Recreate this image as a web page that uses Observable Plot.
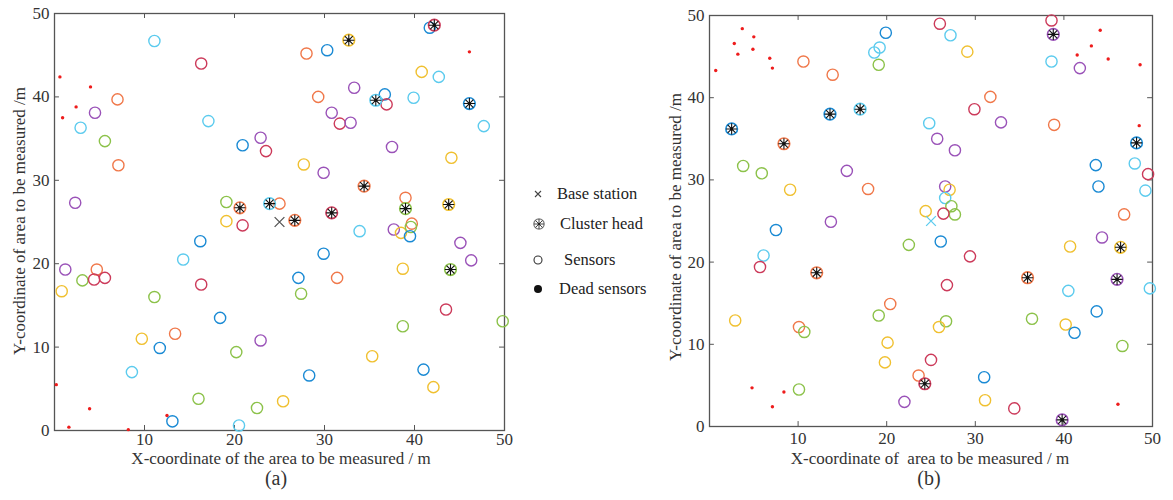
<!DOCTYPE html>
<html>
<head>
<meta charset="utf-8">
<script src="https://cdn.jsdelivr.net/npm/d3@7"></script>
<script src="https://cdn.jsdelivr.net/npm/@observablehq/plot@0.6"></script>
<style>
  html, body { margin: 0; padding: 0; background: #fff; }
  #wrap { position: relative; width: 1173px; height: 500px; background: #fff; font-family: "Liberation Serif", "DejaVu Serif", serif; color: #333; }
  .abs { position: absolute; white-space: pre; line-height: 1; }
  .c { transform: translate(-50%, -50%); }
  .rot { transform: translate(-50%, -50%) rotate(-90deg); }
  .leg { position: absolute; left: 532px; font-size: 16.5px; color: #222; }
  .leg div { position: absolute; left: 0; white-space: nowrap; display: flex; align-items: center; }
  .leg svg { display: block; }
</style>
</head>
<body>
<div id="wrap">
  <div id="pa" class="abs" style="left:0;top:0"></div>
  <div id="pb" class="abs" style="left:640px;top:0"></div>
  <div class="abs rot" style="left:19px;top:221px;font-size:17px">Y-coordinate of area to be measured /m</div>
  <div class="abs c" style="left:281px;top:458px;font-size:17px">X-coordinate of the area to be measured / m</div>
  <div class="abs c" style="left:276px;top:478px;font-size:20px">(a)</div>
  <div class="abs rot" style="left:675px;top:227px;font-size:17px">Y-coordinate of area to be measured /m</div>
  <div class="abs c" style="left:930px;top:458px;font-size:17px">X-coordinate of  area to be measured / m</div>
  <div class="abs c" style="left:929px;top:478px;font-size:20px">(b)</div>
  <div class="leg" id="legend"></div>
</div>
<script>
// ---- categories (cluster groups) ----
const groups = ["G1", "G2", "G3", "G4", "G5", "G6", "G7"];
const groupColors = ["#1a8ad4", "#f0784a", "#f0c030", "#9a52b8", "#8cc24a", "#5ccbee", "#cc3a5a"];
// shorthand: B=G1 blue, O=G2 orange, Y=G3 yellow, P=G4 purple, G=G5 green, C=G6 cyan, R=G7 crimson
const code = {B: "G1", O: "G2", Y: "G3", P: "G4", G: "G5", C: "G6", R: "G7"};

const legendLabels = ["Base station", "Cluster head", "Sensors", "Dead sensors"];
const xTicks = [10, 20, 30, 40, 50];
const yTicks = [0, 10, 20, 30, 40, 50];
const innerTicks = [10, 20, 30, 40];

// ---- panel (a) ----
const sensorsA = [
  ["C",11.1,46.7],["R",16.3,44.0],["O",7.0,39.7],["P",4.5,38.1],["C",2.9,36.3],["C",17.1,37.1],
  ["G",5.6,34.7],["B",20.9,34.2],["P",22.9,35.1],["R",23.5,33.5],["O",7.1,31.8],["P",2.3,27.3],
  ["G",19.1,27.4],["O",25.0,27.2],["Y",19.1,25.1],["R",20.9,24.6],["B",41.7,48.3],["O",28.0,45.2],
  ["B",30.3,45.6],["Y",40.8,43.0],["C",42.7,42.4],["P",33.3,41.1],["O",29.3,40.0],["B",36.7,40.3],
  ["R",36.9,39.1],["C",39.9,39.9],["C",47.7,36.5],["P",30.8,38.1],["R",31.7,36.8],["P",32.9,36.9],
  ["P",37.5,34.0],["Y",44.1,32.7],["Y",27.7,31.9],["P",29.9,30.9],["O",39.0,27.9],["C",33.9,23.9],
  ["P",37.7,24.1],["Y",38.5,23.7],["O",39.7,24.8],["G",39.6,24.4],["B",39.5,23.3],["P",45.1,22.5],
  ["P",46.3,20.4],["B",29.9,21.2],["B",27.1,18.3],["O",31.4,18.3],["G",27.4,16.4],["Y",38.7,19.4],
  ["R",43.5,14.5],["G",49.8,13.1],["G",38.7,12.5],["P",22.9,10.8],["Y",35.3,8.9],["B",41.0,7.3],
  ["Y",42.1,5.2],["B",28.3,6.6],["Y",25.4,3.5],["G",22.5,2.7],["P",1.2,19.3],["Y",0.8,16.7],
  ["O",4.7,19.3],["G",3.1,18.0],["R",4.4,18.1],["R",5.6,18.3],["B",16.2,22.7],["C",14.3,20.5],
  ["R",16.3,17.5],["G",11.1,16.0],["B",18.4,13.5],["O",13.4,11.6],["Y",9.7,11.0],["B",11.7,9.9],
  ["G",20.2,9.4],["C",8.6,7.0],["G",16.0,3.8],["B",13.1,1.1],["C",20.5,0.6]
];
const headsA = [
  ["R",42.2,48.6],["Y",32.7,46.8],["C",35.7,39.6],["B",46.1,39.2],["O",34.4,29.3],["O",20.6,26.7],
  ["C",23.9,27.2],["O",26.7,25.2],["R",30.8,26.1],["G",39.0,26.6],["Y",43.8,27.1],["G",44.0,19.3]
];
const deadA = [
  [0.6,42.4],[0.9,37.5],[2.4,38.8],[4.0,41.2],[46.1,45.4],[0.2,5.5],[1.6,0.4],[3.9,2.6],[8.2,0.1],[12.5,1.8]
];
const baseA = [[25.0, 25.0]];

// ---- panel (b) ----
const sensorsB = [
  ["O",10.6,44.4],["O",13.9,42.8],["B",19.9,47.9],["C",19.2,46.1],["C",18.6,45.5],["G",19.1,44.0],
  ["G",3.8,31.7],["G",5.9,30.8],["Y",9.1,28.8],["P",15.5,31.1],["O",17.9,28.9],["P",13.7,24.9],
  ["B",7.5,23.9],["R",26.0,49.0],["C",27.2,47.6],["Y",29.1,45.6],["R",38.6,49.4],["C",38.6,44.4],
  ["P",41.8,43.6],["O",31.7,40.1],["R",29.9,38.6],["P",32.9,37.0],["O",38.9,36.7],["C",24.8,36.9],
  ["P",25.7,35.0],["P",27.7,33.6],["B",43.6,31.8],["C",48.0,32.0],["R",49.5,30.7],["B",43.9,29.2],
  ["C",49.2,28.7],["P",26.6,29.2],["Y",27.1,28.8],["C",26.6,27.8],["G",27.3,26.8],["G",27.7,25.8],
  ["R",26.4,25.9],["Y",24.4,26.2],["O",46.8,25.8],["G",22.5,22.1],["B",26.1,22.5],["R",29.4,20.7],
  ["R",26.8,17.2],["Y",40.7,21.9],["P",44.3,23.0],["C",49.7,16.8],["C",40.5,16.5],["B",43.7,14.0],
  ["G",26.7,12.8],["Y",25.9,12.1],["G",36.4,13.1],["Y",40.2,12.4],["B",41.2,11.4],["G",46.6,9.8],
  ["R",25.0,8.1],["O",23.6,6.2],["B",31.0,6.0],["Y",31.1,3.2],["R",34.4,2.2],["P",22.0,3.0],
  ["C",6.1,20.8],["R",5.7,19.4],["Y",2.9,12.9],["O",10.1,12.1],["G",10.7,11.5],["O",20.4,14.9],
  ["G",19.1,13.5],["Y",20.1,10.2],["Y",19.8,7.8],["G",10.1,4.5]
];
const headsB = [
  ["B",13.6,38.0],["C",17.0,38.6],["B",2.5,36.2],["O",8.4,34.4],["P",38.8,47.7],["B",48.2,34.5],
  ["O",12.1,18.7],["O",35.9,18.1],["Y",46.4,21.8],["P",46.0,17.9],["R",24.3,5.2],["P",39.8,0.8]
];
const deadB = [
  [0.7,43.3],[2.8,46.6],[3.2,45.3],[3.7,48.4],[5.0,47.4],[4.9,45.9],[6.8,44.8],[7.1,43.6],
  [44.1,48.2],[43.1,46.3],[41.5,45.2],[45.0,44.7],[48.6,44.0],[48.5,36.6],[46.1,2.7],
  [4.8,4.7],[8.4,4.2],[7.1,2.4]
];
const baseB = [[25.0, 25.0]];

// ---- drawing ----
const toRows = arr => arr.map(([g, x, y]) => ({group: code[g], x, y}));
const asterisk8 = {
  draw(ctx, size) {
    const r = Math.sqrt(size / Math.PI), d = r * Math.SQRT1_2;
    ctx.moveTo(-r, 0); ctx.lineTo(r, 0);
    ctx.moveTo(0, -r); ctx.lineTo(0, r);
    ctx.moveTo(-d, -d); ctx.lineTo(d, d);
    ctx.moveTo(-d, d); ctx.lineTo(d, -d);
  }
};

function panel({width, height, ml, mr, mt, mb, padX, sensors, heads, dead, base, baseColor}) {
  const S = toRows(sensors), H = toRows(heads);
  const D = dead.map(([x, y]) => ({x, y}));
  const Bs = base.map(([x, y]) => ({x, y}));
  const fc = "#555";
  return Plot.plot({
    width, height,
    marginLeft: ml, marginRight: mr, marginTop: mt, marginBottom: mb,
    style: {fontFamily: "'Liberation Serif', 'DejaVu Serif', serif", fontSize: "17px", color: "#333", background: "#fff", overflow: "visible"},
    x: {domain: [0, 50]},
    y: {domain: [0, 50]},
    color: {domain: groups, range: groupColors},
    marks: [
      Plot.axisX({ticks: xTicks, tickSize: 0, tickPadding: padX, label: null, fontSize: 17}),
      Plot.axisY({ticks: yTicks, tickSize: 0, tickPadding: 5, label: null, fontSize: 17}),
      Plot.ruleX(innerTicks, {x: d => d, y1: 0, y2: 0.6, stroke: fc}),
      Plot.ruleX(innerTicks, {x: d => d, y1: 50, y2: 49.4, stroke: fc}),
      Plot.ruleY(innerTicks, {y: d => d, x1: 0, x2: 0.55, stroke: fc}),
      Plot.ruleY(innerTicks, {y: d => d, x1: 50, x2: 49.45, stroke: fc}),
      Plot.frame({stroke: fc, strokeWidth: 1.3}),
      Plot.dot(S, {x: "x", y: "y", r: 5.6, stroke: "group", strokeWidth: 1.4}),
      Plot.dot(H, {x: "x", y: "y", r: 5.8, stroke: "group", strokeWidth: 1.6}),
      Plot.dot(H, {x: "x", y: "y", r: 5.6, symbol: asterisk8, stroke: "#111", strokeWidth: 1.1}),
      Plot.dot(H, {x: "x", y: "y", r: 1.6, fill: "#111"}),
      Plot.dot(D, {x: "x", y: "y", r: 1.7, fill: "#ee1c1c"}),
      Plot.dot(Bs, {x: "x", y: "y", r: 4.5, symbol: "times", stroke: baseColor, strokeWidth: 1.3})
    ]
  });
}

document.getElementById("pa").appendChild(panel({
  width: 520, height: 455, ml: 54, mr: 16, mt: 13, mb: 25, padX: 2,
  sensors: sensorsA, heads: headsA, dead: deadA, base: baseA, baseColor: "#555"
}));
document.getElementById("pb").appendChild(panel({
  width: 533, height: 455, ml: 69, mr: 21, mt: 15, mb: 29, padX: 5,
  sensors: sensorsB, heads: headsB, dead: deadB, base: baseB, baseColor: "#5ccbee"
}));

// ---- legend ----
const legIcons = [
  '<svg width="12" height="12" viewBox="-6 -6 12 12"><path d="M-3,-3L3,3M-3,3L3,-3" stroke="#444" stroke-width="1.1"/></svg>',
  '<svg width="14" height="14" viewBox="-7 -7 14 14"><circle r="5.2" fill="none" stroke="#777" stroke-width="1.2"/><path d="M-5,0H5M0,-5V5M-3.5,-3.5L3.5,3.5M-3.5,3.5L3.5,-3.5" stroke="#333" stroke-width="0.9"/><circle r="1.3" fill="#222"/></svg>',
  '<svg width="12" height="12" viewBox="-6 -6 12 12"><circle r="4" fill="none" stroke="#333" stroke-width="1.1"/></svg>',
  '<svg width="12" height="12" viewBox="-6 -6 12 12"><circle r="4" fill="#111"/></svg>'
];
const legY = [194, 224, 260, 289];
const legGap = [13, 14, 20, 15];
const legEl = document.getElementById("legend");
legendLabels.forEach((t, i) => {
  const row = document.createElement("div");
  row.style.top = (legY[i] - 9) + "px";
  row.style.height = "18px";
  row.innerHTML = legIcons[i] + '<span style="margin-left:' + legGap[i] + 'px">' + t + '</span>';
  legEl.appendChild(row);
});
</script>
</body>
</html>
